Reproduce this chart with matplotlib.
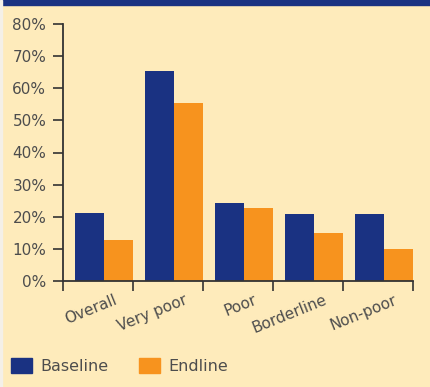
import matplotlib.pyplot as plt
import numpy as np
from matplotlib.patches import Patch, Rectangle

categories = ['Overall', 'Very poor', 'Poor', 'Borderline', 'Non-poor']
baseline = [21.2, 65.3, 24.3, 20.9, 20.9]
endline = [12.8, 55.3, 22.7, 15.0, 10.0]
yticks = [0, 10, 20, 30, 40, 50, 60, 70, 80]

bg = '#FEEBBB'
navy = '#1A3282'
orange = '#F7931E'
txt = '#4d4d4d'

fig = plt.figure(figsize=(4.30, 3.87), dpi=100)
fig.patch.set_facecolor(bg)
# dark band on top, light strip on the left
fig.patches.append(Rectangle((0, 1 - 5/387), 1, 5/387, transform=fig.transFigure,
                             color=navy, zorder=0))
fig.patches.append(Rectangle((0, 0), 2/430, 1, transform=fig.transFigure,
                             color='#f4f0e8', zorder=0))

ax = fig.add_axes([63/430, 1 - 281/387, 350/430, 257/387])
ax.set_facecolor(bg)

x = np.arange(len(categories))
w = 0.415
ax.bar(x + 1 - 2*w, baseline, width=w, align='edge', color=navy, label='Baseline')
ax.bar(x + 1 - w, endline, width=w, align='edge', color=orange, label='Endline')

ax.set_xlim(0, len(categories))
ax.set_ylim(0, 80)
ax.set_yticks(yticks)
ax.set_yticklabels([str(v) + '%' for v in yticks], fontsize=11, color=txt)
ax.set_xticks(np.arange(len(categories) + 1))
ax.set_xticklabels([])
ax.tick_params(axis='both', length=7, width=1.2, color='#333333')
ax.tick_params(axis='y', pad=5)

for s in ['top', 'right']:
    ax.spines[s].set_visible(False)
for s in ['left', 'bottom']:
    ax.spines[s].set_linewidth(1.3)
    ax.spines[s].set_color('#333333')

for i, c in enumerate(categories):
    ax.text(i + 0.5 + 0.22, -3.6, c, rotation=22, ha='right', va='top',
            rotation_mode='anchor', fontsize=11, color=txt)

handles = [Patch(color=navy, label='Baseline'), Patch(color=orange, label='Endline')]
fig.legend(handles=handles, loc='lower left', bbox_to_anchor=(-0.005, 0.0), ncol=2,
           frameon=False, fontsize=11.5, labelcolor=txt, handlelength=1.35,
           handleheight=1.1, handletextpad=0.5, columnspacing=1.9,
           borderaxespad=0.4)

plt.savefig('out.png', dpi=100, facecolor=bg)
